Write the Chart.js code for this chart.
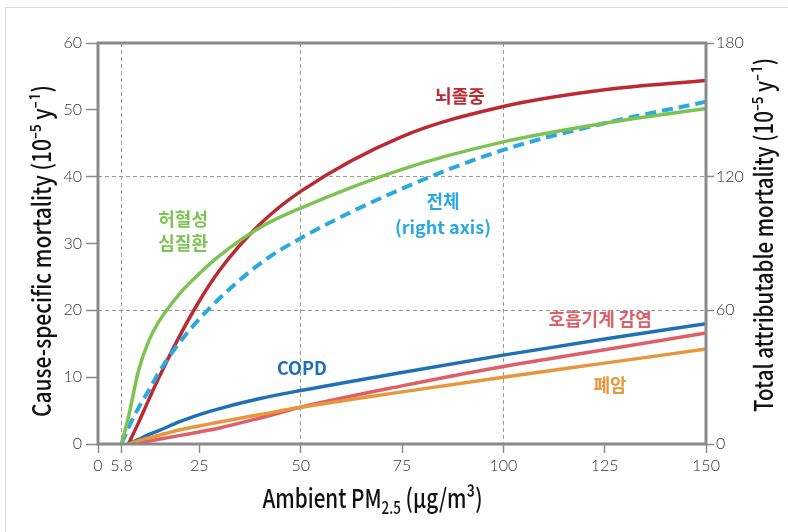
<!DOCTYPE html>
<html>
<head>
<meta charset="utf-8">
<script src="https://cdn.jsdelivr.net/npm/chart.js@4"></script>
<style>
  html, body { margin: 0; padding: 0; background: #fff; }
  #wrap { width: 788px; height: 532px; position: relative; }
</style>
</head>
<body>
<div id="wrap"><canvas id="myChart" width="788" height="532"></canvas></div>
<script>
// PM2.5 concentrations where the curves were read
const pm = [5.8, 7.5, 10, 12.5, 15, 20, 25, 30, 40, 50, 75, 100, 125, 150];

// cause-specific mortality (left axis, 10^-5 y^-1)
const ihd        = [0, 4.0, 11.0, 15.4, 18.3, 22.4, 25.5, 28.2, 32.4, 35.3, 41.1, 45.2, 48.0, 50.2];
const stroke     = [null, 0, 3.2, 6.6, 9.9, 16.0, 21.4, 26.0, 32.9, 37.8, 46.0, 50.5, 53.0, 54.4];
const copd       = [null, 0, 0.7, 1.4, 2.0, 3.3, 4.4, 5.3, 6.8, 8.0, 10.7, 13.3, 15.7, 18.0];
const lri        = [null, 0, 0.2, 0.45, 0.7, 1.25, 1.8, 2.4, 3.9, 5.5, 8.7, 11.6, 14.1, 16.6];
const lungCancer = [null, 0, 0.5, 0.9, 1.3, 2.1, 2.7, 3.3, 4.4, 5.5, 7.8, 10.0, 12.1, 14.2];

// total attributable mortality (right axis)
const total = [0, 7.2, 16.2, 24.0, 32.1, 45.3, 56.1, 65.4, 81.0, 92.4, 114.6, 132.0, 144.0, 153.6];

// axis ticks
const xTicks = [0, 5.8, 25, 50, 75, 100, 125, 150];
const xGridAt = [5.8, 50, 100];
const yGridAt = [20, 40];

// curve labels, placed in data units (left axis)
const labels = [
  { text: '뇌졸중', x: 89.3, y: 52.1, color: '#bb2a30' },
  { text: '허혈성', x: 21.0, y: 33.7, color: '#7dc352' },
  { text: '심질환', x: 21.0, y: 30.1, color: '#7dc352' },
  { text: '전체', x: 85.1, y: 36.4, color: '#29a9e0' },
  { text: '(right axis)', x: 85.1, y: 32.5, color: '#29a9e0' },
  { text: 'COPD', x: 50.3, y: 11.4, color: '#1f70b6' },
  { text: '호흡기계 감염', x: 123.9, y: 18.7, color: '#df5f69' },
  { text: '폐암', x: 126.3, y: 8.8, color: '#e8963b' }
];

const toPts = ys => pm.map((x, i) => ({ x: x, y: ys[i] }));

const frameGray = '#8a8a8a';
const gridGray = '#9a9a9a';
const kr = '"Noto Sans CJK KR", "Noto Sans", sans-serif';

// text drawn squeezed to a given width
function fitText(c, str, cx, cy, w, font, rot) {
  c.save();
  c.font = font;
  const m = c.measureText(str).width;
  c.translate(cx, cy);
  c.rotate(rot);
  c.scale(Math.min(1, w / m), 1);
  c.textAlign = 'center';
  c.textBaseline = 'middle';
  c.fillText(str, 0, 0);
  c.restore();
}

const decorations = {
  id: 'decorations',
  beforeDraw(chart) {
    const c = chart.ctx;
    c.save();
    c.strokeStyle = '#d9d9d9';
    c.lineWidth = 1;
    c.beginPath();
    c.moveTo(5.5, 532);
    c.lineTo(5.5, 7.5);
    c.lineTo(788, 7.5);
    c.stroke();
    c.restore();
  },
  afterDatasetsDraw(chart) {
    const c = chart.ctx;
    const a = chart.chartArea;
    c.save();
    c.strokeStyle = frameGray;
    c.lineWidth = 3;
    c.strokeRect(a.left, a.top, a.right - a.left, a.bottom - a.top);
    c.restore();

    const sx = chart.scales.x, sy = chart.scales.y;
    c.save();
    c.font = 'bold 18px ' + kr;
    c.textAlign = 'center';
    c.textBaseline = 'middle';
    labels.forEach(l => {
      c.fillStyle = l.color;
      c.fillText(l.text, sx.getPixelForValue(l.x), sy.getPixelForValue(l.y));
    });
    c.restore();
  },
  afterDraw(chart) {
    const c = chart.ctx;
    c.fillStyle = '#111';
    fitText(c, 'Cause-specific mortality (10⁻⁵ y⁻¹)', 41, 251, 332, '500 25px ' + kr, -Math.PI / 2);
    fitText(c, 'Total attributable mortality (10⁻⁵ y⁻¹)', 763, 235, 354, '500 25px ' + kr, -Math.PI / 2);

    // x title with subscript
    const big = '500 26px ' + kr, small = '500 17px ' + kr;
    const p1 = 'Ambient PM', p2 = '2.5', p3 = ' (μg/m³)';
    c.save();
    c.font = big; const w1 = c.measureText(p1).width, w3 = c.measureText(p3).width;
    c.font = small; const w2 = c.measureText(p2).width;
    const tw = w1 + w2 + w3, target = 220;
    const k = Math.min(1, target / tw);
    c.translate(372.5 - target / 2, 508);
    c.scale(k, 1);
    c.textBaseline = 'alphabetic';
    c.textAlign = 'left';
    c.font = big; c.fillText(p1, 0, 0);
    c.font = small; c.fillText(p2, w1, 6);
    c.font = big; c.fillText(p3, w1 + w2, 0);
    c.restore();
  }
};

const line = (ys, color, axis, dash) => ({
  data: toPts(ys),
  borderColor: color,
  borderWidth: dash ? 4 : 3.5,
  borderDash: dash || [],
  pointRadius: 0,
  cubicInterpolationMode: 'monotone',
  yAxisID: axis,
  fill: false
});

const tickFont = { family: 'Lato, "Liberation Sans", sans-serif', size: 16, weight: '300' };

new Chart('myChart', {
  type: 'line',
  data: {
    datasets: [
      line(lungCancer, '#e8963b', 'y'),
      line(lri, '#df5f69', 'y'),
      line(copd, '#1f70b6', 'y'),
      line(ihd, '#7dc352', 'y'),
      line(total, '#29a9e0', 'y2', [11, 6]),
      line(stroke, '#bb2a30', 'y')
    ]
  },
  options: {
    responsive: false,
    animation: false,
    layout: { padding: { top: 43 } },
    plugins: { legend: { display: false }, tooltip: { enabled: false } },
    scales: {
      x: {
        type: 'linear',
        min: 0,
        max: 150,
        afterBuildTicks: s => { s.ticks = xTicks.map(v => ({ value: v })); },
        afterFit: s => { s.height = 88; },
        ticks: { font: tickFont, color: '#333', padding: 3, maxRotation: 0, autoSkip: false },
        grid: {
          color: ctx => (ctx.tick && xGridAt.includes(ctx.tick.value)) ? gridGray : 'rgba(0,0,0,0)',
          tickColor: frameGray,
          tickLength: 9,
          tickWidth: 1.5
        },
        border: { display: false, dash: [4, 3] }
      },
      y: {
        position: 'left',
        min: 0,
        max: 60,
        afterFit: s => { s.width = 98; },
        ticks: { stepSize: 10, font: tickFont, color: '#333', padding: 4 },
        grid: {
          color: ctx => (ctx.tick && yGridAt.includes(ctx.tick.value)) ? gridGray : 'rgba(0,0,0,0)',
          tickColor: frameGray,
          tickLength: 12,
          tickWidth: 1.5
        },
        border: { display: false, dash: [4, 3] }
      },
      y2: {
        position: 'right',
        min: 0,
        max: 180,
        afterFit: s => { s.width = 82; },
        ticks: { stepSize: 60, font: tickFont, color: '#333', padding: 2 },
        grid: { drawOnChartArea: false, tickColor: frameGray, tickLength: 8, tickWidth: 1.5 },
        border: { display: false }
      }
    }
  },
  plugins: [decorations]
});
</script>
</body>
</html>
